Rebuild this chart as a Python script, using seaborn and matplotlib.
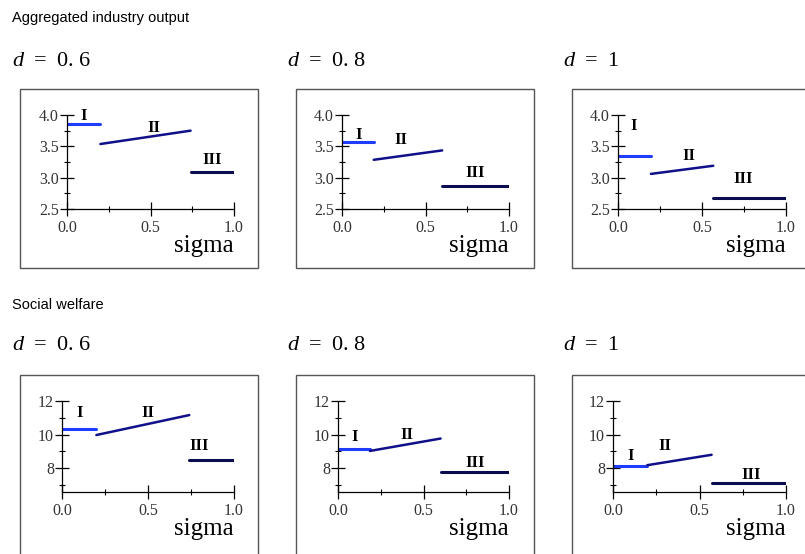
import numpy as np
import pandas as pd
import matplotlib
matplotlib.use("Agg")
import matplotlib.pyplot as plt
from matplotlib.patches import Rectangle
from matplotlib.ticker import FixedLocator
import seaborn as sns

sns.set_theme(style="white")
plt.rcParams['font.family'] = ['Liberation Serif', 'DejaVu Serif']
plt.rcParams['mathtext.fontset'] = 'custom'
plt.rcParams['mathtext.rm'] = 'Liberation Serif'
plt.rcParams['mathtext.it'] = 'Liberation Serif:italic'

# ---------------- data ----------------
d_labels = ["0.\\,6", "0.\\,8", "1"]
regimes = ["I", "II", "III"]

# sigma breakpoints (I: 0..b1, II: b1..b2, III: b2..1)
output_b1 = [0.20, 0.19, 0.196]
output_b2 = [0.74, 0.60, 0.567]
welfare_b1 = [0.20, 0.187, 0.198]
welfare_b2 = [0.74, 0.60, 0.57]

# aggregated industry output values
output_I = [3.85, 3.57, 3.34]
output_II_start = [3.537, 3.285, 3.06]
output_II_end = [3.75, 3.435, 3.19]
output_III = [3.085, 2.86, 2.67]

# social welfare values
welfare_I = [10.33, 9.16, 8.14]
welfare_II_start = [9.97, 9.02, 8.17]
welfare_II_end = [11.16, 9.76, 8.79]
welfare_III = [8.48, 7.78, 7.11]

# regime label positions (sigma, value)
output_lab_x = [[0.10, 0.52, 0.87], [0.10, 0.35, 0.80], [0.095, 0.42, 0.745]]
output_lab_y = [[3.98, 3.79, 3.28], [3.68, 3.60, 3.08], [3.82, 3.35, 2.98]]
welfare_lab_x = [[0.10, 0.50, 0.80], [0.10, 0.40, 0.80], [0.10, 0.30, 0.80]]
welfare_lab_y = [[11.3, 11.3, 9.3], [9.86, 10.0, 8.3], [8.7, 9.3, 7.6]]

x_major = [0.0, 0.5, 1.0]
x_minor = [0.25, 0.75]
out_y_major = [2.5, 3.0, 3.5, 4.0]
out_y_minor = [2.75, 3.25, 3.75]
wel_y_major = [8, 10, 12]
wel_y_minor = [7, 9, 11]

row_titles = ["Aggregated industry output", "Social welfare"]

colors = {"I": "#1f3cff", "II": "#10108a", "III": "#0b0b50"}
widths = {"I": 2.2, "II": 1.8, "III": 2.2}

W, H = 805, 554
fig = plt.figure(figsize=(W / 100, H / 100), dpi=100)


def fx(px):
    return px / W


def fy(py):
    return 1 - py / H


# layout in pixels
box_left = [20, 296, 572]
box_w = 238
row_box_top = [89, 375]
row_box_bottom = [268, 590]
axes_x0 = [[67, 342, 618], [62, 338, 613]]
axes_x1 = [[234, 509, 786], [234, 509, 786]]
axes_ytop = [115, 401]
axes_ybot = [209, 492]
row_ylim = [(2.5, 4.0), (6.57, 12.0)]
title_y = [18, 305]
dlab_y = [66, 350]
dlab_x = [12, 287, 563]
sigma_offset = 43  # px below the x axis (baseline)


def segments(b1, b2, vI, v2s, v2e, vIII):
    df = pd.DataFrame({
        "sigma": [0.0, b1, b1, b2, b2, 1.0],
        "value": [vI, vI, v2s, v2e, vIII, vIII],
        "regime": ["I", "I", "II", "II", "III", "III"],
    })
    return df


for r in range(2):
    fig.text(fx(12), fy(title_y[r]), row_titles[r], family="Liberation Sans",
             fontsize=10.5, color="black", va="center", ha="left")
    for c in range(3):
        fig.text(fx(dlab_x[c]), fy(dlab_y[r]), r"$d\;\,=\;\,%s$" % d_labels[c],
                 fontsize=16, color="black", va="baseline", ha="left")
        # frame box
        fig.add_artist(Rectangle((fx(box_left[c]), fy(row_box_bottom[r])),
                                 box_w / W, (row_box_bottom[r] - row_box_top[r]) / H,
                                 transform=fig.transFigure, fill=False,
                                 edgecolor="#555555", linewidth=1.0, zorder=0))
        x0, x1 = axes_x0[r][c], axes_x1[r][c]
        ax = fig.add_axes([fx(x0), fy(axes_ybot[r]), (x1 - x0) / W,
                           (axes_ybot[r] - axes_ytop[r]) / H])
        ax.patch.set_alpha(0)
        if r == 0:
            df = segments(output_b1[c], output_b2[c], output_I[c],
                          output_II_start[c], output_II_end[c], output_III[c])
            lx, ly = output_lab_x[c], output_lab_y[c]
            ymaj, ymin = out_y_major, out_y_minor
            yfmt = "%.1f"
        else:
            df = segments(welfare_b1[c], welfare_b2[c], welfare_I[c],
                          welfare_II_start[c], welfare_II_end[c], welfare_III[c])
            lx, ly = welfare_lab_x[c], welfare_lab_y[c]
            ymaj, ymin = wel_y_major, wel_y_minor
            yfmt = "%d"
        for reg in regimes:
            sns.lineplot(data=df[df["regime"] == reg], x="sigma", y="value",
                         color=colors[reg], linewidth=widths[reg], ax=ax,
                         sort=False, legend=False)
        for i, reg in enumerate(regimes):
            ax.text(lx[i], ly[i], reg, fontsize=12, fontweight="bold",
                    ha="center", va="center", color="black", clip_on=False)
        ax.set_xlim(0, 1)
        ax.set_ylim(*row_ylim[r])
        ax.set_xlabel("")
        ax.set_ylabel("")
        for s in ["top", "right"]:
            ax.spines[s].set_visible(False)
        for s in ["left", "bottom"]:
            ax.spines[s].set_color("black")
            ax.spines[s].set_linewidth(0.9)
        ax.xaxis.set_major_locator(FixedLocator(x_major))
        ax.xaxis.set_minor_locator(FixedLocator(x_minor))
        ax.yaxis.set_major_locator(FixedLocator(ymaj))
        ax.yaxis.set_minor_locator(FixedLocator(ymin))
        ax.set_xticklabels(["%.1f" % v for v in x_major])
        ax.set_yticklabels([yfmt % v for v in ymaj])
        ax.tick_params(which="major", direction="inout", length=9.5, width=0.9,
                       color="black", labelsize=11.5, labelcolor="#333333", pad=1,
                       bottom=True, left=True)
        ax.tick_params(which="minor", direction="inout", length=4.5, width=0.8,
                       color="black", bottom=True, left=True)
        ax.tick_params(axis="x", which="major", pad=3)
        fig.text(fx(x1), fy(axes_ybot[r] + sigma_offset), "sigma", fontsize=18,
                 ha="right", va="baseline", color="black")

fig.savefig("out.png", dpi=100)
